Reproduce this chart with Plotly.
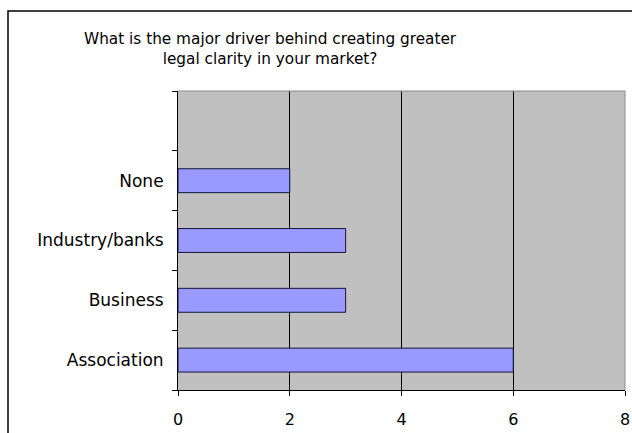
import plotly.graph_objects as go

categories = ["Association", "Business", "Industry/banks", "None", " "]
values = [6, 3, 3, 2, None]
x_ticks = [0, 2, 4, 6, 8]
title_text = "What is the major driver behind creating greater<br>legal clarity in your market?"

W, H = 632, 433
L, R, T, B = 178, 7, 91, 43
pw, ph = W - L - R, H - T - B

def px_x(p):
    return (p - L) / pw

def px_y(p):
    return (H - B - p) / ph

fig = go.Figure()
fig.add_trace(go.Bar(
    y=categories, x=values, orientation="h",
    width=0.4,
    marker=dict(color="#9999FF", line=dict(color="#14143a", width=1)),
    hoverinfo="x+y",
))

font = "DejaVu Sans, Verdana, sans-serif"
fig.update_layout(
    width=W, height=H,
    margin=dict(l=L, r=R, t=T, b=B),
    paper_bgcolor="white",
    plot_bgcolor="#C0C0C0",
    showlegend=False,
    font=dict(family=font, color="black"),
    xaxis=dict(
        range=[0, 8], tickvals=x_ticks, ticktext=[str(v) for v in x_ticks],
        showgrid=True, gridcolor="black", gridwidth=1,
        showline=True, linecolor="black", linewidth=1,
        ticks="outside", ticklen=5, tickcolor="black",
        tickfont=dict(size=16, family=font), ticklabelstandoff=10,
        zeroline=False, fixedrange=True, automargin=False,
    ),
    yaxis=dict(
        type="category", categoryorder="array", categoryarray=categories,
        showgrid=False,
        showline=True, linecolor="black", linewidth=1,
        ticks="outside", ticklen=5, tickcolor="black", tickson="boundaries",
        tickfont=dict(size=17, family=font), ticklabelstandoff=10,
        zeroline=False, fixedrange=True, automargin=False,
    ),
    annotations=[dict(
        text=title_text, x=px_x(270), y=px_y(49), xref="paper", yref="paper",
        xanchor="center", yanchor="middle", showarrow=False,
        font=dict(size=15.3, family=font, color="black"),
    )],
    shapes=[
        dict(type="line", xref="paper", yref="paper", x0=0, x1=1, y0=1, y1=1,
             line=dict(color="#8c8c8c", width=1)),
        dict(type="line", xref="paper", yref="paper", x0=1, x1=1, y0=0, y1=1,
             line=dict(color="#8c8c8c", width=1)),
        dict(type="rect", xref="paper", yref="paper",
             x0=px_x(8), x1=px_x(W + 20), y0=px_y(11), y1=px_y(H + 20),
             line=dict(color="black", width=1.5), layer="below"),
    ],
)

fig.write_html("out.html")
